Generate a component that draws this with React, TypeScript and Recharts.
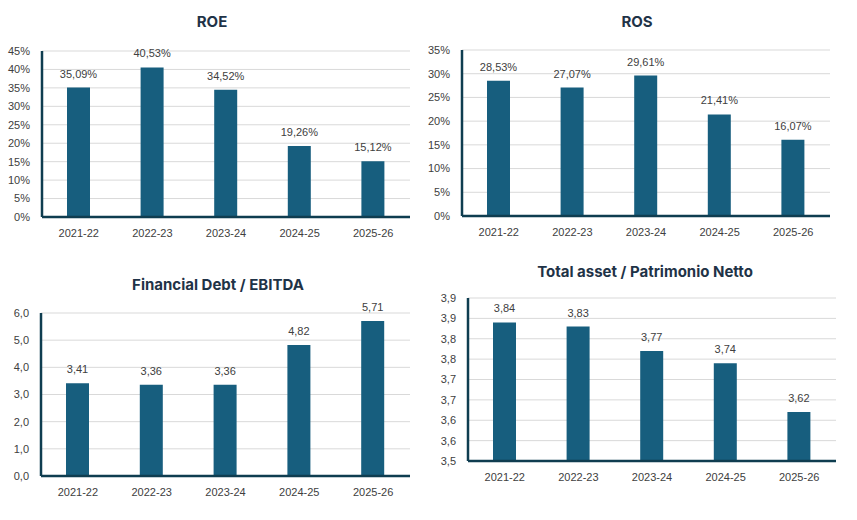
import React from 'react'
import { BarChart, Bar, XAxis, YAxis, CartesianGrid, LabelList } from 'recharts'

const categories = ['2021-22', '2022-23', '2023-24', '2024-25', '2025-26']
const roeValues = [35.09, 40.53, 34.52, 19.26, 15.12]
const rosValues = [28.53, 27.07, 29.61, 21.41, 16.07]
const debtValues = [3.41, 3.36, 3.36, 4.82, 5.71]
const assetValues = [3.84, 3.83, 3.77, 3.74, 3.62]

const roeTicks = [0, 5, 10, 15, 20, 25, 30, 35, 40, 45]
const rosTicks = [0, 5, 10, 15, 20, 25, 30, 35]
const debtTicks = [0, 1, 2, 3, 4, 5, 6]
const assetTicks = [3.5, 3.55, 3.6, 3.65, 3.7, 3.75, 3.8, 3.85, 3.9]

const BAR = '#175e7e'
const AXIS = '#0f3d50'
const FONT = '"Liberation Sans", Arial, sans-serif'

const pct = (v: number) => `${v}%`
const pct2 = (v: number) => `${v.toFixed(2).replace('.', ',')}%`
const one = (v: number) => (Math.round(v * 10 + 1e-9) / 10).toFixed(1).replace('.', ',')
const two = (v: number) => v.toFixed(2).replace('.', ',')

interface PanelProps {
  title: string
  values: number[]
  ticks: number[]
  tickFmt: (v: number) => string
  labelFmt: (v: number) => string
  left: number
  top: number
  plotLeft: number
  plotTop: number
  plotBottom: number
  titleY: number
  titleX: number
}

function Panel(p: PanelProps) {
  const data = categories.map((c, i) => ({ name: c, value: p.values[i] }))
  const height = p.plotBottom + 33
  return (
    <div style={{ position: 'absolute', left: p.left, top: p.top, width: 420, height }}>
      <div
        style={{
          position: 'absolute',
          left: p.titleX - 200,
          width: 400,
          top: p.titleY - 10,
          textAlign: 'center',
          fontFamily: 'Inter, sans-serif',
          fontWeight: 700,
          fontSize: 15,
          color: '#1f3347',
        }}
      >
        {p.title}
      </div>
      <BarChart
        width={420}
        height={height}
        data={data}
        margin={{ top: p.plotTop, right: 10, bottom: 8, left: p.plotLeft - 42 }}
        barSize={23}
      >
        <CartesianGrid vertical={false} stroke="#d9d9d9" />
        <XAxis
          dataKey="name"
          height={25}
          tickLine={false}
          axisLine={{ stroke: AXIS, strokeWidth: 2.5 }}
          tick={{ fontSize: 11, fill: '#404040', fontFamily: FONT }}
          tickMargin={6}
        />
        <YAxis
          width={42}
          domain={[p.ticks[0], p.ticks[p.ticks.length - 1]]}
          ticks={p.ticks}
          interval={0}
          tickFormatter={p.tickFmt}
          tickLine={false}
          axisLine={{ stroke: AXIS, strokeWidth: 2.5 }}
          tick={{ fontSize: 11, fill: '#404040', fontFamily: FONT }}
          tickMargin={6}
        />
        <Bar dataKey="value" fill={BAR} isAnimationActive={false}>
          <LabelList
            dataKey="value"
            position="top"
            offset={10}
            formatter={(v: any) => p.labelFmt(Number(v))}
            style={{ fontSize: 11, fill: '#404040', fontFamily: FONT }}
          />
        </Bar>
      </BarChart>
    </div>
  )
}

export default function App() {
  return (
    <div style={{ position: 'absolute', left: 0, top: 0, width: 857, height: 520, background: '#fff' }}>
      <Panel title="ROE" values={roeValues} ticks={roeTicks} tickFmt={pct} labelFmt={pct2}
        left={0} top={0} plotLeft={42} plotTop={51} plotBottom={217} titleX={212} titleY={22} />
      <Panel title="ROS" values={rosValues} ticks={rosTicks} tickFmt={pct} labelFmt={pct2}
        left={420} top={0} plotLeft={42} plotTop={50} plotBottom={216} titleX={217} titleY={22} />
      <Panel title="Financial Debt / EBITDA" values={debtValues} ticks={debtTicks} tickFmt={one} labelFmt={two}
        left={0} top={260} plotLeft={41} plotTop={53} plotBottom={216} titleX={218} titleY={25} />
      <Panel title="Total asset /  Patrimonio Netto" values={assetValues} ticks={assetTicks} tickFmt={one} labelFmt={two}
        left={426} top={250} plotLeft={42} plotTop={48} plotBottom={211} titleX={219} titleY={22} />
    </div>
  )
}
